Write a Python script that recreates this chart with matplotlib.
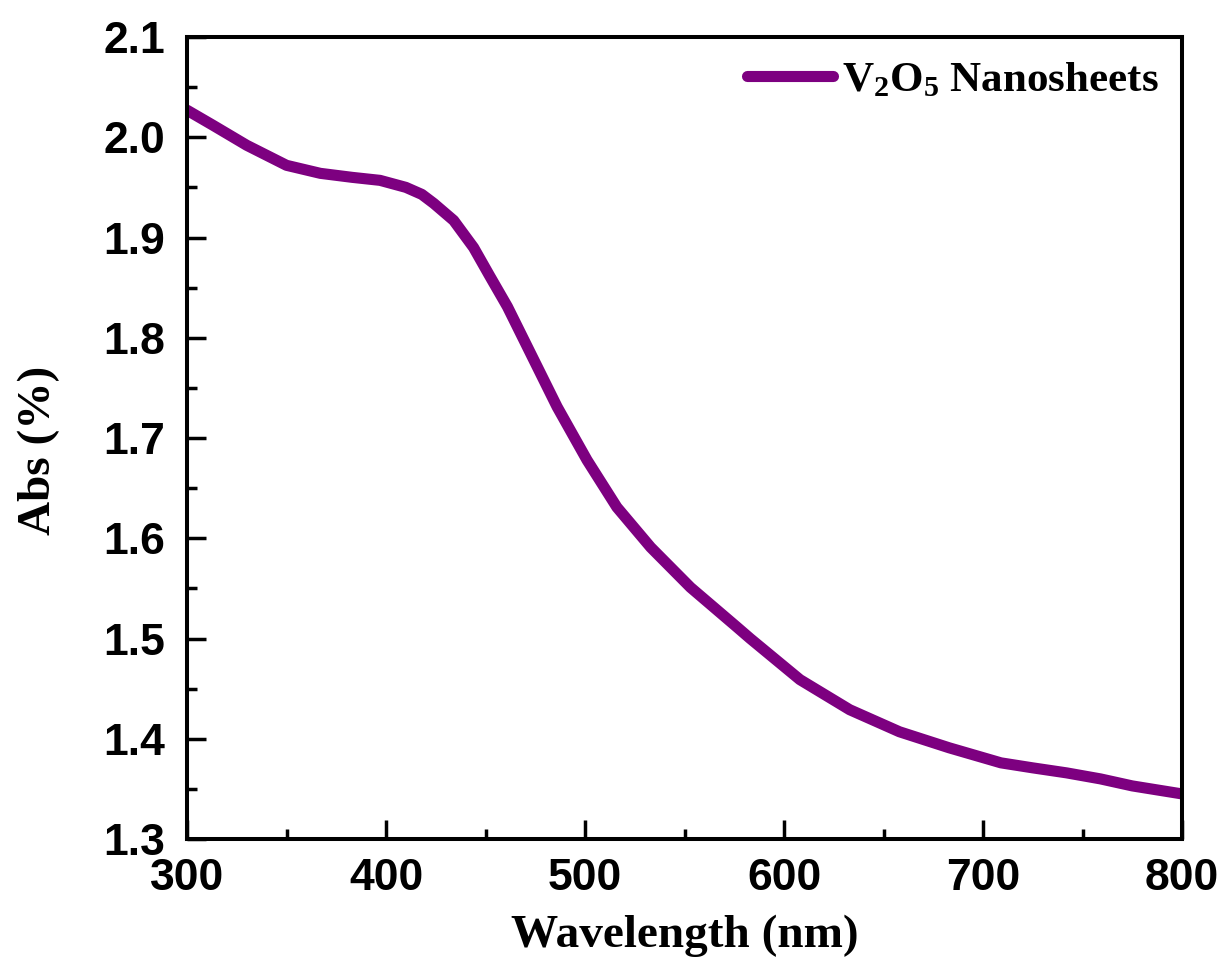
import matplotlib
matplotlib.use("Agg")
import matplotlib.pyplot as plt
from matplotlib.ticker import MultipleLocator

# UV-vis spectrum of V2O5 nanosheets
wavelength = [300, 313, 330, 350, 367, 383, 397, 410, 418, 424, 434, 444, 452,
              461, 474, 486, 501, 516, 533, 553, 576, 583, 608, 633, 658, 683,
              709, 725, 742, 759, 775, 800]
absorb = [2.027, 2.012, 1.992, 1.972, 1.964, 1.960, 1.957, 1.950, 1.943, 1.934,
          1.917, 1.890, 1.862, 1.831, 1.779, 1.731, 1.678, 1.631, 1.591, 1.551,
          1.512, 1.500, 1.459, 1.429, 1.407, 1.391, 1.376, 1.371, 1.366, 1.360,
          1.353, 1.345]
xticks = [300, 400, 500, 600, 700, 800]
yticks = [1.3, 1.4, 1.5, 1.6, 1.7, 1.8, 1.9, 2.0, 2.1]

fig = plt.figure(figsize=(12.24, 9.71), dpi=100)
ax = fig.add_axes([0.1528, 0.1359, 0.8129, 0.8260])

ax.plot(wavelength, absorb, color="#7d0080", lw=8, solid_capstyle="round",
        solid_joinstyle="round",
        label=r"V$\mathregular{_2}$O$\mathregular{_5}$ Nanosheets")

ax.set_xlim(300, 800)
ax.set_ylim(1.3, 2.1)
ax.set_xticks(xticks)
ax.set_yticks(yticks)
ax.xaxis.set_minor_locator(MultipleLocator(50))
ax.yaxis.set_minor_locator(MultipleLocator(0.05))

for s in ax.spines.values():
    s.set_linewidth(2.9)
ax.tick_params(which="both", direction="in", top=False, right=False, width=2.5)
ax.tick_params(which="major", length=13.5, labelsize=32)
ax.tick_params(axis="y", which="major", pad=16)
ax.tick_params(axis="x", which="major", pad=14)
ax.tick_params(which="minor", length=7)
ax.set_xticklabels([str(v) for v in xticks], family="Liberation Sans",
                   fontweight="bold")
ax.set_yticklabels([f"{v:.1f}" for v in yticks], family="Liberation Sans",
                   fontweight="bold")

ax.set_xlabel("Wavelength (nm)", family="Liberation Serif", fontweight="bold",
              fontsize=34)
ax.set_ylabel("Abs (%)", family="Liberation Serif", fontweight="bold",
              fontsize=34)
ax.xaxis.set_label_coords(0.5, -0.094)
ax.yaxis.set_label_coords(-0.128, 0.485)

leg = ax.legend(loc="upper right", frameon=False, handlelength=2.0,
                handletextpad=0.2, borderaxespad=0.15,
                prop={"family": "Liberation Serif", "weight": "bold", "size": 31})

fig.savefig("out.png", dpi=100)
